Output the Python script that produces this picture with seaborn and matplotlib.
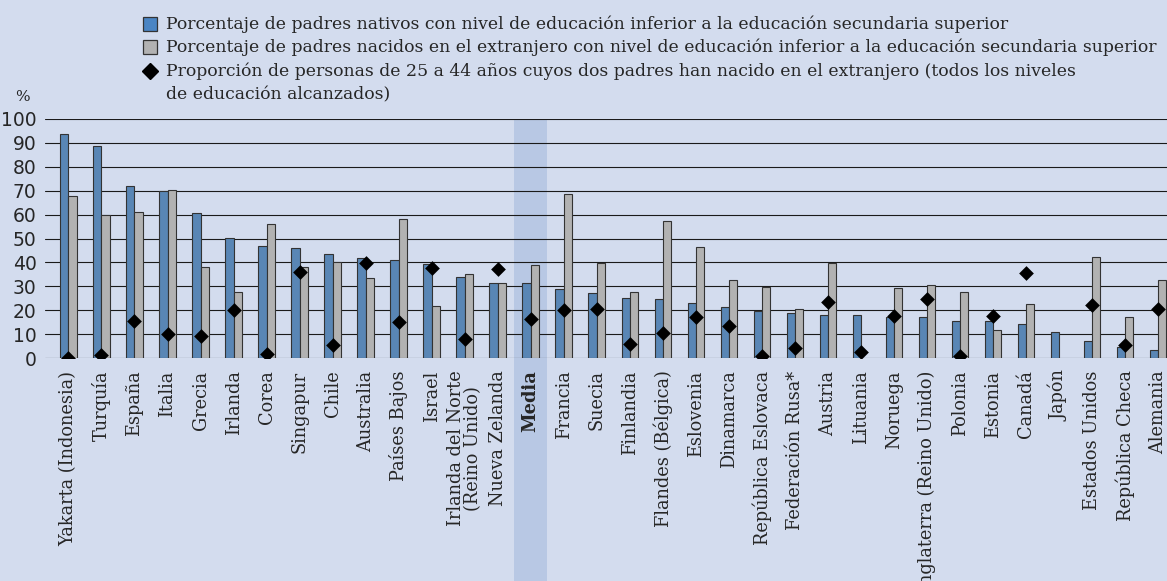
import pandas as pd
import numpy as np
import matplotlib.pyplot as plt
import matplotlib.transforms as mtransforms
from matplotlib.patches import Rectangle
from matplotlib.lines import Line2D
import seaborn as sns

paises = ["Yakarta (Indonesia)", "Turquía", "España", "Italia", "Grecia", "Irlanda",
          "Corea", "Singapur", "Chile", "Australia", "Países Bajos", "Israel",
          "Irlanda del Norte\n(Reino Unido)", "Nueva Zelanda", "Media", "Francia",
          "Suecia", "Finlandia", "Flandes (Bélgica)", "Eslovenia", "Dinamarca",
          "República Eslovaca", "Federación Rusa*", "Austria", "Lituania", "Noruega",
          "Inglaterra (Reino Unido)", "Polonia", "Estonia", "Canadá", "Japón",
          "Estados Unidos", "República Checa", "Alemania"]

nativos = [93.6, 88.6, 72.0, 70.0, 60.8, 50.2, 46.7, 46.2, 43.4, 42.0, 40.9, 39.2,
           33.8, 31.5, 31.4, 28.9, 27.1, 25.0, 24.8, 23.0, 21.3, 19.7, 18.8, 18.1,
           18.1, 17.3, 17.0, 15.3, 15.3, 14.4, 11.0, 7.0, 4.5, 3.2]

extranjero = [67.8, 59.8, 61.1, 70.2, 38.2, 27.5, 56.1, 38.2, 40.2, 33.6, 58.2, 21.8,
              35.3, 31.2, 38.8, 68.8, 39.6, 27.5, 57.5, 46.4, 32.5, 29.6, 20.4, 39.9,
              np.nan, 29.1, 30.4, 27.5, 11.6, 22.5, np.nan, 42.1, 17.0, 32.6]

proporcion = [0.0, 1.1, 15.3, 9.9, 9.1, 20.2, 1.5, 35.8, 5.3, 39.6, 14.9, 37.8,
              8.0, 37.2, 16.3, 20.2, 20.4, 6.0, 10.5, 17.3, 13.4, 0.7, 4.3, 23.3,
              2.6, 17.7, 24.8, 0.7, 17.7, 35.4, np.nan, 22.3, 5.3, 20.6]

lab_nat = "Porcentaje de padres nativos con nivel de educación inferior a la educación secundaria superior"
lab_ext = "Porcentaje de padres nacidos en el extranjero con nivel de educación inferior a la educación secundaria superior"
lab_prop = ("Proporción de personas de 25 a 44 años cuyos dos padres han nacido en el extranjero (todos los niveles\n"
            "de educación alcanzados)")

bg = "#D3DCEE"
azul = "#4A85C4"
gris = "#B2B2B2"
banda = "#B8C8E4"
W, H = 1167, 581

df = pd.DataFrame({"pais": paises * 2,
                   "serie": ["nat"] * len(paises) + ["ext"] * len(paises),
                   "valor": nativos + extranjero})
dfp = pd.DataFrame({"pais": paises, "prop": proporcion})

sns.set_style("white")
plt.rcParams["font.family"] = ["DejaVu Serif"]

fig = plt.figure(figsize=(W / 100, H / 100), dpi=100, facecolor=bg)
ax = fig.add_axes([45 / W, 223 / H, 1122 / W, 239 / H])
ax.set_facecolor(bg)

# banda para la media
idx_media = paises.index("Media")
trans = mtransforms.blended_transform_factory(ax.transData, ax.transAxes)
ax.add_patch(Rectangle((idx_media - 0.5, -223 / 239), 1.0, 1 + 223 / 239,
                       transform=trans, facecolor=banda, edgecolor="none",
                       clip_on=False, zorder=0))

for y in range(0, 101, 10):
    ax.axhline(y, color="#1a1a1a", lw=0.8, zorder=1)

sns.barplot(data=df, x="pais", y="valor", hue="serie", order=paises,
            hue_order=["nat", "ext"], palette={"nat": azul, "ext": gris},
            width=0.5, gap=0, edgecolor="#333333", linewidth=0.8,
            legend=False, ax=ax, zorder=3)

sns.stripplot(data=dfp, x="pais", y="prop", order=paises, jitter=False,
              marker="D", size=7.5, color="black", linewidth=0, ax=ax, zorder=5)

ax.set_ylim(0, 100)
ax.set_xlim(-0.71, len(paises) - 1 + 0.27)
ax.set_yticks(range(0, 101, 10))
ax.tick_params(axis="y", length=0, pad=6, labelsize=13.5)
for t in ax.get_yticklabels():
    t.set_family("DejaVu Sans")
ax.tick_params(axis="x", length=0, pad=9)
ax.set_xticks(range(len(paises)))
ax.set_xticklabels(paises, rotation=90, fontsize=12.8, va="top", ha="center",
                   linespacing=0.95)
for t in ax.get_xticklabels():
    if t.get_text() == "Media":
        t.set_fontweight("bold")
ax.set_xlabel("")
ax.set_ylabel("")
for s in ax.spines.values():
    s.set_visible(False)

fig.text(15 / W, 1 - 97 / H, "%", fontsize=11, ha="left", va="center")

# leyenda
filas = [24, 47, 71]
for yc, col in zip(filas[:2], [azul, gris]):
    fig.add_artist(Rectangle((143 / W, 1 - (yc + 7) / H), 14 / W, 14 / H,
                             transform=fig.transFigure, facecolor=col,
                             edgecolor="#333333", lw=0.9))
fig.add_artist(Line2D([150 / W], [1 - filas[2] / H], marker="D", color="black",
                      markersize=8.5, lw=0, transform=fig.transFigure))
fig.text(166 / W, 1 - filas[0] / H, lab_nat, fontsize=12.4, va="center", ha="left")
fig.text(166 / W, 1 - filas[1] / H, lab_ext, fontsize=12.4, va="center", ha="left")
fig.text(166 / W, 1 - (filas[2] - 9) / H, lab_prop, fontsize=12.4, va="top",
         ha="left", linespacing=1.55)

fig.savefig("out.png", dpi=100, facecolor=bg)
